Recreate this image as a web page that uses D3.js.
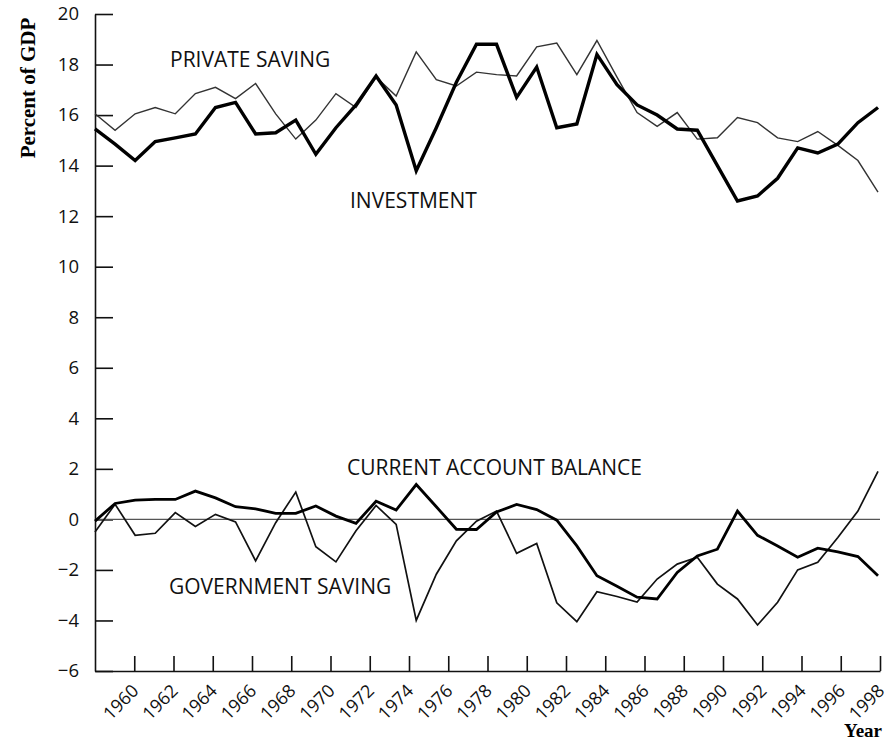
<!DOCTYPE html>
<html>
<head>
<meta charset="utf-8">
<script src="https://cdn.jsdelivr.net/npm/d3@7"></script>
<style>
  body { margin: 0; background: #fff; }
  svg { display: block; }
  .axis path, .axis line { stroke: #111; }
  .axis text { font-family: "Open Sans", sans-serif; fill: #111; }
</style>
</head>
<body>
<script>
// annual data, percent of GDP
var years = [1959, 1960, 1961, 1962, 1963, 1964, 1965, 1966, 1967, 1968,
             1969, 1970, 1971, 1972, 1973, 1974, 1975, 1976, 1977, 1978,
             1979, 1980, 1981, 1982, 1983, 1984, 1985, 1986, 1987, 1988,
             1989, 1990, 1991, 1992, 1993, 1994, 1995, 1996, 1997, 1998]

var privateSaving = [16.05, 15.4, 16.05, 16.3, 16.05, 16.85, 17.1, 16.65, 17.25, 16.05,
                     15.05, 15.8, 16.85, 16.3, 17.5, 16.75, 18.5, 17.4, 17.15, 17.7,
                     17.6, 17.55, 18.7, 18.85, 17.6, 18.95, 17.5, 16.1, 15.55, 16.1,
                     15.05, 15.1, 15.9, 15.7, 15.1, 14.95, 15.35, 14.8, 14.2, 12.95]

var investment = [15.45, 14.85, 14.2, 14.95, 15.1, 15.25, 16.3, 16.5, 15.25, 15.3,
                  15.8, 14.45, 15.5, 16.4, 17.55, 16.4, 13.8, 15.5, 17.3, 18.8,
                  18.8, 16.7, 17.9, 15.5, 15.65, 18.4, 17.2, 16.4, 16.0, 15.45,
                  15.4, 14.0, 12.6, 12.8, 13.5, 14.7, 14.5, 14.85, 15.7, 16.3]

var currentAccount = [-0.07, 0.63, 0.76, 0.79, 0.79, 1.12, 0.85, 0.5, 0.42, 0.24,
                      0.24, 0.53, 0.13, -0.16, 0.72, 0.37, 1.38, 0.5, -0.39, -0.4,
                      0.29, 0.59, 0.39, -0.03, -1.05, -2.23, -2.65, -3.08, -3.15, -2.1,
                      -1.45, -1.18, 0.33, -0.63, -1.05, -1.5, -1.14, -1.29, -1.47, -2.23]

var governmentSaving = [-0.5, 0.6, -0.63, -0.55, 0.27, -0.28, 0.2, -0.1, -1.64, -0.13,
                        1.08, -1.08, -1.68, -0.45, 0.55, -0.2, -4.0, -2.17, -0.85, -0.07,
                        0.33, -1.34, -0.95, -3.3, -4.05, -2.86, -3.05, -3.27, -2.36, -1.77,
                        -1.5, -2.56, -3.15, -4.18, -3.28, -2.0, -1.7, -0.72, 0.33, 1.9]

var yTicks = [-6, -4, -2, 0, 2, 4, 6, 8, 10, 12, 14, 16, 18, 20]
var xTicks = [1960, 1962, 1964, 1966, 1968, 1970, 1972, 1974, 1976, 1978,
              1980, 1982, 1984, 1986, 1988, 1990, 1992, 1994, 1996, 1998]

var W = 889, H = 744

var svg = d3.select('body').append('svg')
    .attr('width', W)
    .attr('height', H)

// scales
var y = d3.scaleLinear().domain([-6, 20]).range([671, 14])
// tick labels in the book sit on their own grid (1958 at the axis)
var xAxisScale = d3.scaleLinear().domain([1958, 1998]).range([95, 880])
// data points: 1959 at the axis, 1998 at the right end
var x = d3.scaleLinear().domain([1959, 1998]).range([95, 878])

// y axis
var yAxis = d3.axisLeft(y)
    .tickValues(yTicks)
    .tickFormat(function (d) { return d < 0 ? '\u2212' + Math.abs(d) : d })
    .tickSizeInner(-18)
    .tickSizeOuter(0)
    .tickPadding(16)

var gy = svg.append('g')
    .attr('class', 'axis')
    .attr('transform', 'translate(' + xAxisScale(1958) + ',0)')
    .call(yAxis)
gy.selectAll('line').attr('stroke-width', 1.6)
gy.select('.domain').attr('stroke-width', 1.6)
gy.selectAll('text').style('font-size', '18.5px')

// x axis
var xAxis = d3.axisBottom(xAxisScale)
    .tickValues(xTicks)
    .tickFormat(d3.format('d'))
    .tickSizeInner(-15)
    .tickSizeOuter(0)

var gx = svg.append('g')
    .attr('class', 'axis')
    .attr('transform', 'translate(0,' + y(-6) + ')')
    .call(xAxis)
gx.selectAll('line').attr('stroke-width', 1.6)
gx.select('.domain').attr('stroke-width', 1.6)
gx.selectAll('text')
    .style('font-size', '18px')
    .attr('y', null)
    .attr('dy', null)
    .attr('text-anchor', 'end')
    .attr('transform', 'translate(5,21) rotate(-45)')

// zero line
svg.append('line')
    .attr('x1', xAxisScale(1958))
    .attr('x2', xAxisScale(1998))
    .attr('y1', y(0))
    .attr('y2', y(0))
    .attr('stroke', '#555')
    .attr('stroke-width', 1.2)

// series
var series = [
  { name: 'private', values: privateSaving, width: 1.4, color: '#333' },
  { name: 'investment', values: investment, width: 3.4, color: '#000' },
  { name: 'government', values: governmentSaving, width: 1.7, color: '#111' },
  { name: 'current', values: currentAccount, width: 2.8, color: '#000' }
]

var line = d3.line()
    .x(function (d) { return x(d.year) })
    .y(function (d) { return y(d.value) })

svg.selectAll('path.series')
    .data(series)
    .enter()
  .append('path')
    .attr('class', 'series')
    .attr('fill', 'none')
    .attr('stroke', function (d) { return d.color })
    .attr('stroke-width', function (d) { return d.width })
    .attr('stroke-linejoin', 'miter')
    .attr('d', function (s) {
      return line(years.map(function (yr, i) { return { year: yr, value: s.values[i] } }))
    })

// series labels
var labels = [
  { text: 'PRIVATE SAVING', x: 170, y: 67 },
  { text: 'INVESTMENT', x: 350, y: 208 },
  { text: 'CURRENT ACCOUNT BALANCE', x: 347, y: 475 },
  { text: 'GOVERNMENT SAVING', x: 169, y: 594 }
]
svg.selectAll('text.label')
    .data(labels)
    .enter()
  .append('text')
    .attr('class', 'label')
    .attr('x', function (d) { return d.x })
    .attr('y', function (d) { return d.y })
    .style('font-family', '"Open Sans", sans-serif')
    .style('font-size', '21px')
    .attr('fill', '#111')
    .text(function (d) { return d.text })

// axis titles
svg.append('text')
    .attr('transform', 'translate(35,88) rotate(-90)')
    .attr('text-anchor', 'middle')
    .style('font-family', '"Liberation Serif", "Times New Roman", serif')
    .style('font-weight', 'bold')
    .style('font-size', '21px')
    .text('Percent of GDP')

svg.append('text')
    .attr('x', 882)
    .attr('y', 737)
    .attr('text-anchor', 'end')
    .style('font-family', '"Liberation Serif", "Times New Roman", serif')
    .style('font-weight', 'bold')
    .style('font-size', '19px')
    .text('Year')
</script>
</body>
</html>
